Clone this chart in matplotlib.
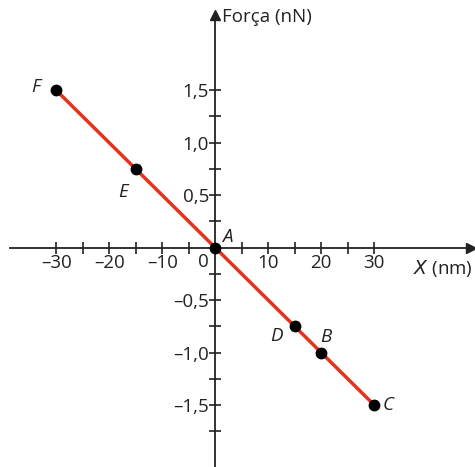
import matplotlib.pyplot as plt

plt.rcParams['font.family'] = ['Open Sans', 'DejaVu Sans']

# pontos do gráfico
names = ["F", "E", "A", "D", "B", "C"]
xs = [-30, -15, 0, 15, 20, 30]
forces = [1.5, 0.75, 0, -0.75, -1.0, -1.5]

xticks = [-30, -20, -10, 10, 20, 30]
xlabels = ["–30", "–20", "–10", "10", "20", "30"]
yticks = [-1.5, -1.0, -0.5, 0.5, 1.0, 1.5]
ylabels = ["–1,5", "–1,0", "–0,5", "0,5", "1,0", "1,5"]

FS = 13.5
INK = "#222222"

fig = plt.figure(figsize=(4.75, 4.67), dpi=100)
ax = fig.add_axes([0, 0, 1, 1])
ax.set_xlim(-40.6, 49.0)
ax.set_ylim(-2.09, 2.36)

for s in ["top", "right"]:
    ax.spines[s].set_visible(False)
ax.spines["left"].set_position(("data", 0))
ax.spines["bottom"].set_position(("data", 0))
ax.spines["left"].set_bounds(-2.09, 2.2)
ax.spines["bottom"].set_bounds(-38.7, 48.0)
for s in ["left", "bottom"]:
    ax.spines[s].set_linewidth(1.3)
    ax.spines[s].set_color(INK)
ax.plot(48.2, 0, ">", color=INK, markersize=7, clip_on=False)
ax.plot(0, 2.22, "^", color=INK, markersize=7, clip_on=False)

ax.set_xticks(xticks)
ax.set_xticklabels(xlabels)
ax.set_xticks([-25, -15, -5, 5, 15, 25], minor=True)
ax.set_yticks(yticks)
ax.set_yticklabels(ylabels)
ax.set_yticks([-1.75, -1.25, -0.75, -0.25, 0.25, 0.75, 1.25], minor=True)
ax.tick_params(which="both", direction="inout", length=9, width=1.2,
               color=INK, labelsize=FS, labelcolor=INK)
ax.tick_params(axis="x", pad=0)
ax.tick_params(axis="y", pad=0)

ax.text(-1.2, -0.05, "0", ha="right", va="top", fontsize=FS, color=INK)
ax.text(48.6, -0.2, "$\\it{X}$ (nm)", ha="right", va="center", fontsize=FS,
        color=INK)
ax.text(1.2, 2.2, "Força (nN)", ha="left", va="center", fontsize=FS,
        color=INK)

ax.plot(xs, forces, "-", color="#e4321d", linewidth=2.5, zorder=3)
ax.plot(xs, forces, "o", color="black", markersize=7.5, zorder=4,
        clip_on=False)

offsets = {"F": (-3, 0.03, "right", "center"),
           "E": (-1.5, -0.22, "right", "center"),
           "A": (2.2, 0.1, "center", "center"),
           "D": (-2.3, -0.09, "right", "center"),
           "B": (0.8, 0.15, "center", "center"),
           "C": (1.6, 0.0, "left", "center")}
for n, x, y in zip(names, xs, forces):
    dx, dy, ha, va = offsets[n]
    ax.text(x + dx, y + dy, n, ha=ha, va=va, fontsize=FS, style="italic",
            color=INK)

fig.savefig("out.png", dpi=100)
